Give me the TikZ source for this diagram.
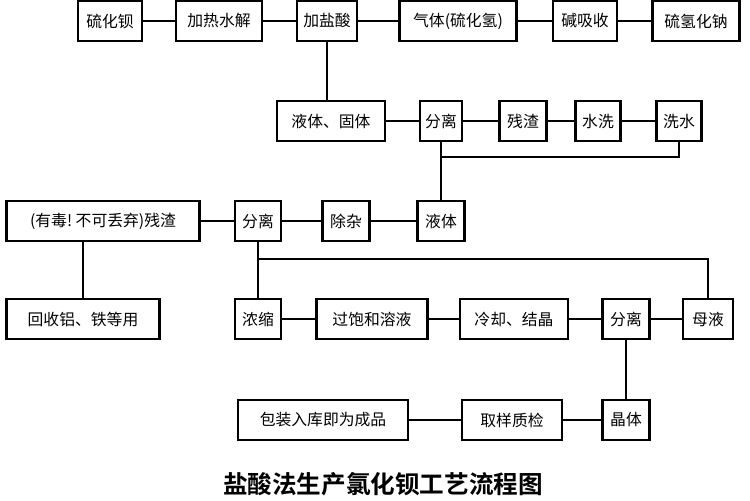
\documentclass[tikz,border=0pt]{standalone}
\usepackage{fontspec}
\setmainfont{Noto Sans CJK SC}[BoldFont={Noto Sans CJK SC Bold}]
\usepackage{tikz}
\begin{document}
\begin{tikzpicture}[x=0.02cm, y=-0.02cm, line width=1pt,
    every node/.style={draw, rectangle, line width=1.2pt, minimum height=0.8cm, inner sep=1pt, font=\fontsize{9}{10}\selectfont}]
  \useasboundingbox (0,0) rectangle (750,500);
  % Row 1
  \node[minimum width=1.28cm] (bas) at (110,21) {硫化钡};
  \node[minimum width=1.72cm] (hot) at (219,21) {加热水解};
  \node[minimum width=1.2cm] (hcl) at (327,21) {加盐酸};
  \node[minimum width=2.34cm] (gas) at (458,21) {气体(硫化氢)};
  \node[minimum width=1.28cm] (alk) at (585,21) {碱吸收};
  \node[minimum width=1.74cm] (nahs) at (696,21) {硫氢化钠};
  % Row 2
  \node[minimum width=2.16cm] (mix) at (331,121) {液体、固体};
  \node[minimum width=0.84cm] (sepa) at (441,121) {分离};
  \node[minimum width=0.94cm] (res) at (523,121) {残渣};
  \node[minimum width=0.9cm] (wash) at (598,121) {水洗};
  \node[minimum width=0.9cm] (wwat) at (679,121) {洗水};
  % Row 3
  \node[minimum width=3.86cm] (tox) at (103,221) {(有毒!\ 不可丢弃)残渣};
  \node[minimum width=0.92cm] (sepb) at (258,221) {分离};
  \node[minimum width=0.94cm] (pur) at (346,221) {除杂};
  \node[minimum width=0.94cm] (liq) at (441,221) {液体};
  % Row 4
  \node[minimum width=3.06cm] (rec) at (83,319) {回收铝、铁等用};
  \node[minimum width=0.92cm] (conc) at (258,319) {浓缩};
  \node[minimum width=2.22cm] (sat) at (372,319) {过饱和溶液};
  \node[minimum width=2.16cm] (cool) at (514,319) {冷却、结晶};
  \node[minimum width=0.94cm] (sepc) at (626,319) {分离};
  \node[minimum width=1.0cm] (moth) at (708,319) {母液};
  % Row 5
  \node[minimum width=3.4cm] (pack) at (323,420) {包装入库即为成品};
  \node[minimum width=2.0cm] (qc) at (512,420) {取样质检};
  \node[minimum width=0.94cm] (cry) at (626,420) {晶体};
  % Title
  \node[draw=none, font=\bfseries\fontsize{14}{15}\selectfont] (title) at (383,484) {盐酸法生产氯化钡工艺流程图};
  % Connectors
  \draw (bas) -- (hot) -- (hcl) -- (gas) -- (alk) -- (nahs);
  \draw (hcl) -- (hcl |- mix.north);
  \draw (mix) -- (sepa) -- (res) -- (wash) -- (wwat);
  \draw (sepa.south) |- (679,157) -- (wwat.south);
  \draw (441,157) -- (liq.north);
  \draw (tox) -- (sepb) -- (pur) -- (liq);
  \draw (tox.south -| rec) -- (rec.north);
  \draw (sepb.south) -- (conc.north);
  \draw (258,259) -| (moth.north);
  \draw (conc) -- (sat) -- (cool) -- (sepc) -- (moth);
  \draw (sepc) -- (cry);
  \draw (cry) -- (qc) -- (pack);
\end{tikzpicture}
\end{document}
